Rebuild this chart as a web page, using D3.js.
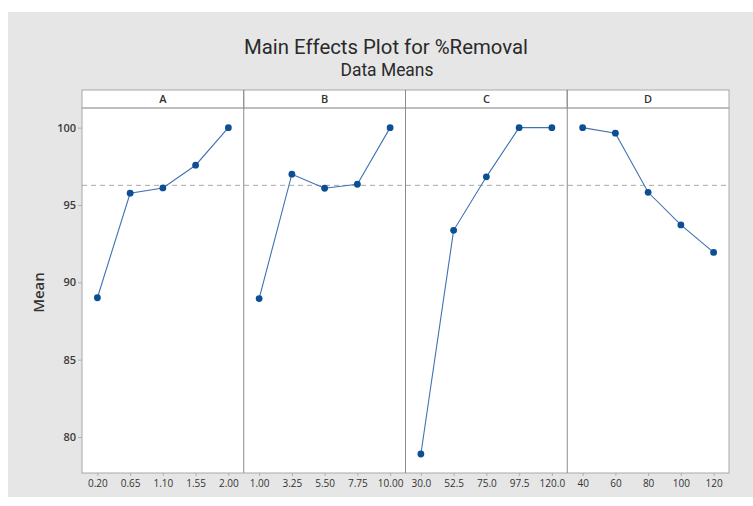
<!DOCTYPE html>
<html>
<head>
<meta charset="utf-8">
<script src="https://cdn.jsdelivr.net/npm/d3@7"></script>
<style>
  html, body { margin: 0; padding: 0; background: #ffffff; }
  svg { display: block; }
</style>
</head>
<body>
<svg id="chart" width="753" height="506"></svg>
<script>
// ---------------- data ----------------
const chartTitle = "Main Effects Plot for %Removal";
const chartSubtitle = "Data Means";
const yLabel = "Mean";
const factors = ["A", "B", "C", "D"];
const levelsA = ["0.20", "0.65", "1.10", "1.55", "2.00"];
const levelsB = ["1.00", "3.25", "5.50", "7.75", "10.00"];
const levelsC = ["30.0", "52.5", "75.0", "97.5", "120.0"];
const levelsD = ["40", "60", "80", "100", "120"];
const meansA = [89.0, 95.76, 96.1, 97.57, 100.0];
const meansB = [88.95, 96.99, 96.08, 96.34, 100.0];
const meansC = [78.9, 93.36, 96.82, 100.0, 100.0];
const meansD = [100.0, 99.64, 95.82, 93.71, 91.93];
const grandMean = 96.27;
const yTicks = [80, 85, 90, 95, 100];

const panels = [
  { name: factors[0], levels: levelsA, means: meansA },
  { name: factors[1], levels: levelsB, means: meansB },
  { name: factors[2], levels: levelsC, means: meansC },
  { name: factors[3], levels: levelsD, means: meansD }
];

// ---------------- layout ----------------
const svg = d3.select("#chart");
const W = 753, H = 506;
const bgX = 8, bgY = 12, bgW = W - 8, bgH = 485;
const plotL = 82, plotR = 729, stripT = 90, stripB = 108, plotB = 473;

const fontFam = "'Open Sans', 'DejaVu Sans', sans-serif";
const titleFam = "Roboto, 'Open Sans', sans-serif";
const textCol = "#333333";
const frameCol = "#a8a8a8";
const dividerCol = "#8c8c8c";
const lineCol = "#3f72b3";
const pointCol = "#0d4f94";

svg.append("rect").attr("x", bgX).attr("y", bgY).attr("width", bgW).attr("height", bgH)
  .attr("fill", "#e6e6e6");

// title
function fitText(sel, targetW) {
  const w = sel.node().getComputedTextLength();
  const fs = parseFloat(sel.attr("font-size"));
  sel.attr("font-size", (fs * targetW / w).toFixed(2));
}
const t1 = svg.append("text").attr("x", 386).attr("y", 54)
  .attr("text-anchor", "middle").attr("font-family", titleFam).attr("font-size", 18)
  .attr("font-weight", 400).attr("fill", "#2a2a2a").text(chartTitle);
fitText(t1, 284);
const t2 = svg.append("text").attr("x", 387).attr("y", 76)
  .attr("text-anchor", "middle").attr("font-family", titleFam).attr("font-size", 14)
  .attr("font-weight", 400).attr("fill", "#2a2a2a").text(chartSubtitle);
fitText(t2, 93);

// scales
const panelX = d3.scaleBand().domain(factors).range([plotL, plotR]).padding(0);
const y = d3.scaleLinear().domain([77.67, 101.27]).range([plotB, stripB]);

// plot area background
svg.append("rect").attr("x", plotL).attr("y", stripT).attr("width", plotR - plotL)
  .attr("height", plotB - stripT).attr("fill", "#ffffff");

// y axis
const yAxis = svg.append("g").attr("transform", `translate(${plotL},0)`)
  .call(d3.axisLeft(y).tickValues(yTicks).tickSize(4).tickFormat(d3.format("d")));
yAxis.select(".domain").remove();
yAxis.selectAll(".tick line").attr("stroke", "#b0b0b0");
yAxis.selectAll(".tick text").attr("font-family", fontFam).attr("font-size", 11)
  .attr("font-weight", 600).attr("fill", "#3a3a3a").attr("x", -6);

svg.append("text")
  .attr("transform", `translate(44,${(stripB + plotB) / 2 + 2}) rotate(-90)`)
  .attr("text-anchor", "middle").attr("font-family", fontFam).attr("font-size", 15)
  .attr("font-weight", 600).attr("fill", textCol).text(yLabel);

// grand mean dashed line
svg.append("line").attr("x1", plotL).attr("x2", plotR)
  .attr("y1", y(grandMean)).attr("y2", y(grandMean))
  .attr("stroke", "#a9a9a9").attr("stroke-width", 1).attr("stroke-dasharray", "5,4");

panels.forEach(p => {
  const x0 = panelX(p.name), bw = panelX.bandwidth();
  const x = d3.scalePoint().domain(p.levels).range([x0, x0 + bw]).padding(0.47);
  const g = svg.append("g");

  // strip
  g.append("rect").attr("x", x0).attr("y", stripT).attr("width", bw)
    .attr("height", stripB - stripT).attr("fill", "#ffffff")
    .attr("stroke", frameCol).attr("stroke-width", 1);
  g.append("text").attr("x", x0 + bw / 2).attr("y", (stripT + stripB) / 2 + 4)
    .attr("text-anchor", "middle").attr("font-family", fontFam).attr("font-size", 11)
    .attr("font-weight", 600).attr("fill", textCol).text(p.name);

  // x axis
  const xa = g.append("g").attr("transform", `translate(0,${plotB})`)
    .call(d3.axisBottom(x).tickSize(3).tickPadding(4));
  xa.select(".domain").remove();
  xa.selectAll(".tick line").attr("stroke", "#b0b0b0");
  xa.selectAll(".tick text").attr("font-family", fontFam).attr("font-size", 10)
    .attr("fill", textCol);

  // line and points
  const pts = p.levels.map((l, i) => [l, p.means[i]]);
  g.append("path").datum(pts)
    .attr("d", d3.line().x(d => x(d[0])).y(d => y(d[1])))
    .attr("fill", "none").attr("stroke", lineCol).attr("stroke-width", 1.1);
  g.selectAll("circle").data(pts).enter().append("circle")
    .attr("cx", d => x(d[0])).attr("cy", d => y(d[1])).attr("r", 3.4)
    .attr("fill", pointCol);
});

// panel frame and dividers
svg.append("rect").attr("x", plotL).attr("y", stripB).attr("width", plotR - plotL)
  .attr("height", plotB - stripB).attr("fill", "none").attr("stroke", frameCol);
factors.slice(1).forEach(f => {
  svg.append("line").attr("x1", panelX(f)).attr("x2", panelX(f))
    .attr("y1", stripT).attr("y2", plotB).attr("stroke", dividerCol).attr("stroke-width", 1);
});
</script>
</body>
</html>
